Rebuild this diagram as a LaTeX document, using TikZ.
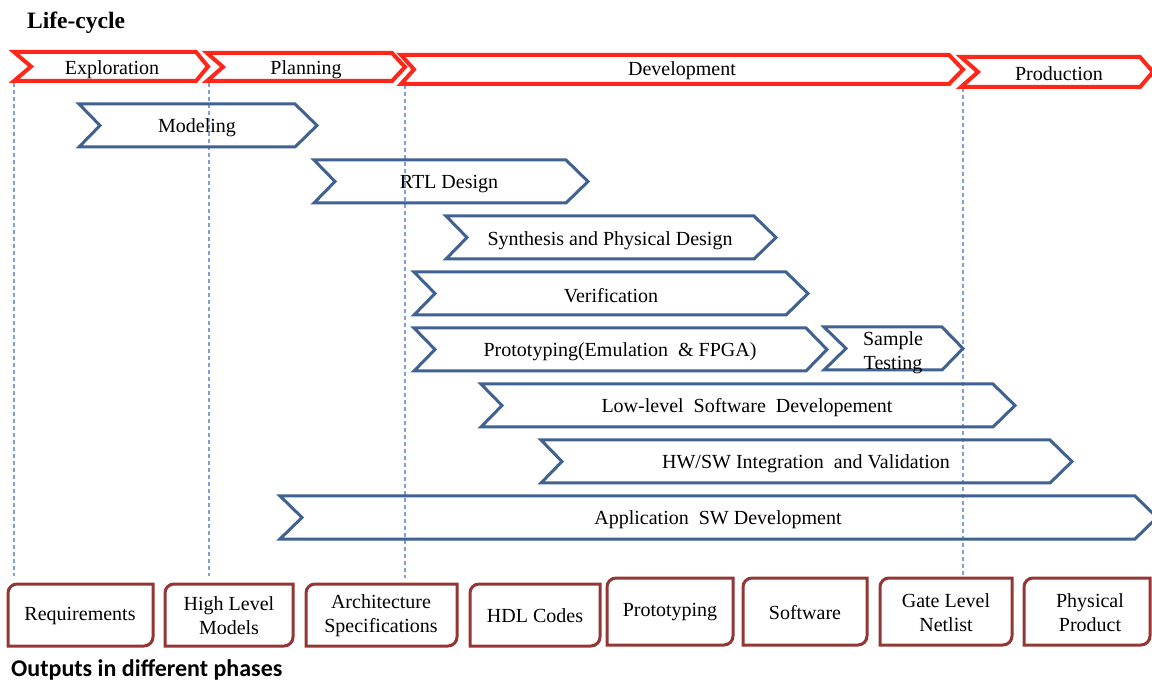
\documentclass[tikz,border=0pt]{standalone}
\usepackage{fontspec}
\setmainfont{Liberation Serif}
\newfontfamily\calibfont{Carlito}
\definecolor{phasered}{RGB}{255,38,26}
\definecolor{taskblue}{RGB}{63,98,144}
\definecolor{boxred}{RGB}{148,54,52}
\definecolor{guideblue}{RGB}{125,160,215}
\newcommand\mychev[7]{\draw[#1] (#2,#6) -- (#4,#6) -- (#5,{(#6+#7)/2}) -- (#4,#7) -- (#2,#7) -- (#3,{(#6+#7)/2}) -- cycle;}
\newcommand\mybox[5]{\draw[outbox] (#1,{(#3+#4)/2}) {[rounded corners=9] -- (#1,#3) -- ({(#1+#2)/2},#3)} -- (#2,#3) -- (#2,{(#3+#4)/2}) {[rounded corners=9] -- (#2,#4) -- ({(#1+#2)/2},#4)} -- (#1,#4) -- cycle;
\node[outtext] (#5) at ({(#1+#2)/2},{(#3+#4)/2}) {};}
\tikzset{
  phase/.style={draw=phasered,line width=4},
  task/.style={draw=taskblue,line width=3},
  outbox/.style={draw=boxred,line width=3},
  lbl/.style={font=\fontsize{20}{23.5}\selectfont,align=center,inner sep=0,yshift=-1.5},
  outtext/.style={inner sep=0},
  guide/.style={draw=guideblue,line width=1.2,dash pattern=on 4 off 3}
}
\begin{document}
\begin{tikzpicture}[x=1pt,y=-1pt]
\fill[white] (0,0) rectangle (1152,684);
\useasboundingbox (0,0) rectangle (1152,684);
\clip (0,0) rectangle (1152,684);
% guides
\coordinate (g1t) at (14,83);  \coordinate (g1b) at (14,576);
\coordinate (g2t) at (209,83); \coordinate (g2b) at (209,576);
\coordinate (g3t) at (405,85); \coordinate (g3b) at (405,578);
\coordinate (g4t) at (963,88); \coordinate (g4b) at (963,578);
\draw[guide] (g1t) -- (g1b);
\draw[guide] (g2t) -- (g2b);
\draw[guide] (g3t) -- (g3b);
\draw[guide] (g4t) -- (g4b);
% title
\node[anchor=west,inner sep=0,font=\fontsize{23.5}{27}\selectfont\bfseries] (title) at (27,23) {Life-cycle};
% phases
\mychev{phase}{14}{31}{196}{208}{52}{81}
\node[lbl] (explo) at (112,68) {Exploration};
\mychev{phase}{207}{223}{392}{405}{53}{81}
\node[lbl] (plan) at (306,68) {Planning};
\mychev{phase}{401}{414}{949}{963}{55}{84}
\node[lbl] (dev) at (682,69) {Development};
\mychev{phase}{961}{978}{1140}{1153}{57}{87}
\node[lbl] (prod) at (1059,72) {Production};
% tasks
\mychev{task}{79}{100}{295}{317}{104}{147}
\node[lbl] (model) at (197,126) {Modeling};
\mychev{task}{314}{335}{566}{588}{160}{203}
\node[lbl] (rtl) at (449,183) {RTL Design};
\mychev{task}{446}{467}{754}{776}{216}{259}
\node[lbl] (synth) at (610,239) {Synthesis and Physical Design};
\mychev{task}{414}{435}{786}{808}{272}{315}
\node[lbl] (verif) at (611,294) {Verification};
\mychev{task}{414}{435}{806}{827}{328}{371}
\node[lbl] (proto) at (620,350) {Prototyping(Emulation\ \ \& FPGA)};
\mychev{task}{824}{846}{942}{963}{327}{370}
\node[lbl,font=\fontsize{20}{24}\selectfont] (sample) at (893,351) {Sample\\Testing};
\mychev{task}{481}{502}{993}{1015}{384}{427}
\node[lbl] (lowsw) at (747,406) {Low-level\ \ Software\ \ Developement};
\mychev{task}{541}{562}{1050}{1072}{440}{483}
\node[lbl] (hwsw) at (806,462) {HW/SW Integration\ \ and Validation};
\mychev{task}{280}{302}{1135}{1157}{496}{539}
\node[lbl] (appsw) at (718,518) {Application\ \ SW Development};
% outputs
\mybox{8}{153}{584}{646}{breq}
\node[lbl] (req) at (80,615) {Requirements};
\mybox{165}{293}{584}{646}{bhlm}
\node[lbl] (hlm) at (229,614) {High Level\\Models};
\mybox{306}{457}{584}{646}{barch}
\node[lbl] (arch) at (381,614) {Architecture\\Specifications};
\mybox{470}{600}{584}{646}{bhdl}
\node[lbl] (hdl) at (535,614) {HDL Codes};
\mybox{607}{733}{578}{645}{bproto}
\node[lbl] (protoout) at (670,611) {Prototyping};
\mybox{743}{867}{578}{645}{bsw}
\node[lbl] (sw) at (805,611) {Software};
\mybox{880}{1012}{578}{645}{bgln}
\node[lbl] (gln) at (946,611) {Gate Level\\Netlist};
\mybox{1024}{1150}{578}{645}{bpp}
\node[lbl] (pp) at (1090,611) {Physical\\Product};
\node[anchor=west,inner sep=0,font=\calibfont\fontsize{24}{28}\selectfont\bfseries] (outs) at (11,670) {Outputs in different phases};
\end{tikzpicture}
\end{document}
